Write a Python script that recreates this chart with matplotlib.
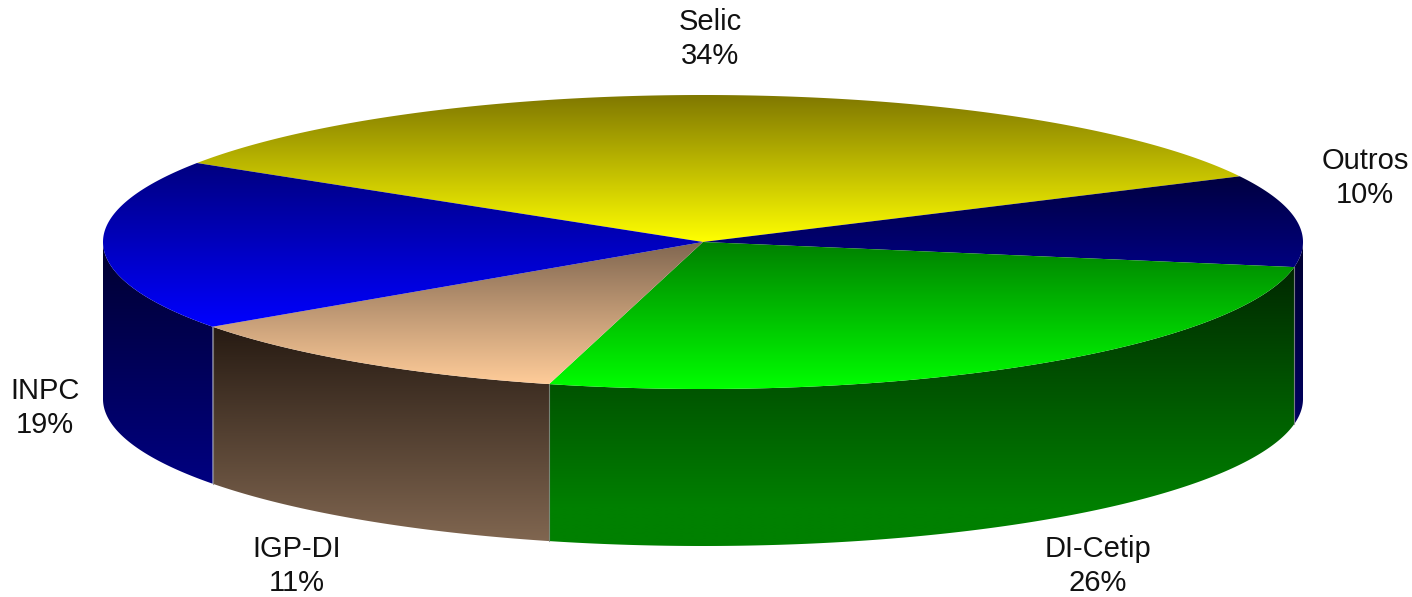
import numpy as np
import matplotlib
matplotlib.use("Agg")
import matplotlib.pyplot as plt
from matplotlib.path import Path
from matplotlib.patches import PathPatch
from matplotlib.colors import to_rgb

labels = ["Selic", "Outros", "DI-Cetip", "IGP-DI", "INPC"]
shares = [33.6, 10.1, 26.4, 11.1, 18.8]
top_dark = ["#807800", "#000040", "#008000", "#806650", "#000080"]
top_light = ["#ffff00", "#000080", "#00ff00", "#ffcc99", "#0000ff"]
side_dark = ["#000000", "#000030", "#002800", "#261a12", "#000030"]
side_light = ["#000000", "#000060", "#008000", "#806650", "#000080"]
side_stop = [1.0, 1.0, 0.86, 1.0, 1.0]

label_xy = [(710, 39), (1365, 178), (1098, 566), (297, 566), (45, 408)]

CX, CY, RX, RY, DEPTH = 703, 242, 600, 147, 157
START = 147.5

plt.rcParams["font.family"] = ["Liberation Sans", "DejaVu Sans"]
fig = plt.figure(figsize=(14.12, 5.97), dpi=100, facecolor="white")
ax = fig.add_axes([0, 0, 1, 1])


def rim(a0, a1, dy=0.0):
    t = np.radians(np.linspace(a0, a1, max(int(abs(a1 - a0) * 4), 2)))
    return np.column_stack([CX + RX * np.cos(t), CY - RY * np.sin(t) + dy])


def fill_gradient(verts, c0, c1, z, stop=1.0):
    y0, y1 = verts[:, 1].min(), verts[:, 1].max()
    x0, x1 = verts[:, 0].min(), verts[:, 0].max()
    f = np.clip(np.linspace(0, 1, 256) / stop, 0, 1)[:, None, None]
    grad = np.array(to_rgb(c0))[None, None, :] * (1 - f) + np.array(to_rgb(c1))[None, None, :] * f
    im = ax.imshow(grad, extent=(x0, x1, y1, y0), origin="upper", aspect="auto",
                   zorder=z, interpolation="bilinear")
    codes = [Path.MOVETO] + [Path.LINETO] * (len(verts) - 1) + [Path.CLOSEPOLY]
    path = Path(np.vstack([verts, verts[0]]), codes)
    patch = PathPatch(path, transform=ax.transData, facecolor="none", edgecolor="none")
    ax.add_patch(patch)
    im.set_clip_path(patch)


ang = START
edges = []
for s in shares:
    edges.append((ang, ang - s * 3.6))
    ang -= s * 3.6

# sides (front half of the rim only)
for i, (a0, a1) in enumerate(edges):
    lo, hi = max(a1, -180.0), min(a0, 0.0)
    if hi <= lo:
        continue
    upper = rim(hi, lo)
    lower = rim(lo, hi, DEPTH)
    fill_gradient(np.vstack([upper, lower]), side_dark[i], side_light[i], 2 + i * 0.01, side_stop[i])

# seams on the side wall
for a0, a1 in edges:
    if -180 < a1 < 0:
        p = rim(a1, a1 + 0.001)[0]
        ax.plot([p[0], p[0]], [p[1], p[1] + DEPTH], color="#8c8c8c", lw=0.8, alpha=0.8, zorder=3)

# top faces
for i, (a0, a1) in enumerate(edges):
    verts = np.vstack([[[CX, CY]], rim(a0, a1)])
    fill_gradient(verts, top_dark[i], top_light[i], 4 + i * 0.01)

for name, share, (x, y) in zip(labels, shares, label_xy):
    ax.text(x, y, f"{name}\n{round(share)}%", ha="center", va="center", fontsize=21,
            color="#111111", linespacing=1.3, zorder=6)

ax.set_xlim(0, 1412)
ax.set_ylim(597, 0)
ax.axis("off")
fig.savefig("out.png", dpi=100, facecolor="white")
